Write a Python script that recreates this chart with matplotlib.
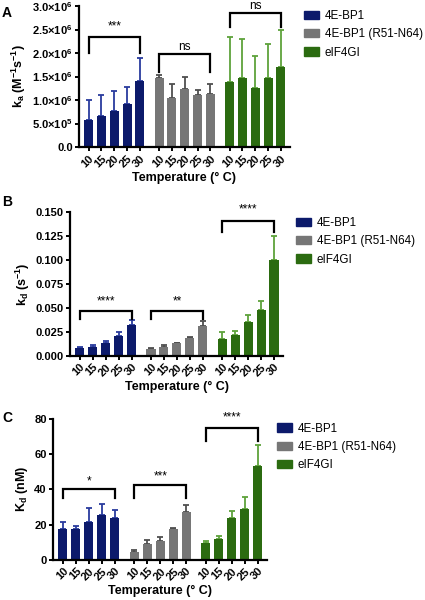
import numpy as np
import matplotlib
matplotlib.use('Agg')
import matplotlib.pyplot as plt
from matplotlib.patches import Patch

plt.rcParams['font.family'] = ['Liberation Sans', 'DejaVu Sans']
plt.rcParams['mathtext.fontset'] = 'custom'
plt.rcParams['mathtext.rm'] = 'Liberation Sans'
plt.rcParams['mathtext.it'] = 'Liberation Sans:italic'
plt.rcParams['mathtext.bf'] = 'Liberation Sans:bold'

temps = ['10', '15', '20', '25', '30']
series = ['4E-BP1', '4E-BP1 (R51-N64)', 'eIF4GI']

# panel A: ka (x1e6)
ka_mean = [[0.57, 0.66, 0.76, 0.91, 1.41],
           [1.47, 1.04, 1.24, 1.10, 1.13],
           [1.38, 1.47, 1.25, 1.47, 1.70]]
ka_top = [[1.00, 1.11, 1.20, 1.28, 1.90],
          [1.54, 1.35, 1.49, 1.22, 1.34],
          [2.34, 2.30, 1.94, 2.19, 2.49]]
ka_sig = ['***', 'ns', 'ns']
ka_ticklabels = ['0.0', r'$\mathbf{5.0{\times}10^5}$', r'$\mathbf{1.0{\times}10^6}$',
                 r'$\mathbf{1.5{\times}10^6}$', r'$\mathbf{2.0{\times}10^6}$',
                 r'$\mathbf{2.5{\times}10^6}$', r'$\mathbf{3.0{\times}10^6}$']

# panel B: kd
kd_mean = [[0.008, 0.0095, 0.013, 0.021, 0.032],
           [0.0068, 0.009, 0.013, 0.019, 0.031],
           [0.018, 0.022, 0.035, 0.048, 0.100]]
kd_top = [[0.009, 0.011, 0.015, 0.025, 0.037],
          [0.008, 0.011, 0.0135, 0.020, 0.036],
          [0.025, 0.026, 0.042, 0.057, 0.125]]
kd_sig = ['****', '**', '****']

# panel C: Kd (nM)
Kd_mean = [[17.2, 17.2, 21.3, 25.6, 23.9],
           [4.6, 9.2, 10.6, 17.4, 27.4],
           [9.7, 11.6, 23.9, 28.7, 53.5]]
Kd_top = [[21.5, 19.3, 29.3, 31.5, 28.5],
          [5.7, 11.4, 12.8, 18.3, 31.2],
          [10.6, 13.3, 27.8, 35.6, 65.0]]
Kd_sig = ['*', '***', '****']

bar_colors = ['#0c1a6b', '#767676', '#2b6b10']
err_colors = ['#2a3c9e', '#4f4f4f', '#5ea33b']
offsets = [0, 5.5, 11]


def panel(ax, means, tops, sigs, brackets, ylim, yticks, yticklabels, ylabel):
    for g in range(3):
        x = np.arange(5) + offsets[g]
        m = np.array(means[g])
        err = np.array(tops[g]) - m
        ax.bar(x, m, width=0.7, color=bar_colors[g], zorder=2)
        ax.errorbar(x, m, yerr=[np.zeros(5), err], fmt='none',
                    ecolor=err_colors[g], elinewidth=1.3, capsize=2.5,
                    capthick=1.3, zorder=1)
        top, tip, txt = brackets[g]
        x0, x1 = offsets[g], offsets[g] + 4
        ax.plot([x0, x0, x1, x1], [tip, top, top, tip], color='black',
                lw=1.6, clip_on=False, solid_joinstyle='miter')
        ax.text((x0 + x1) / 2, txt, sigs[g], ha='center', va='center',
                fontsize=8.5, clip_on=False)
    xt = np.concatenate([np.arange(5) + o for o in offsets])
    ax.set_xticks(xt)
    ax.set_xticklabels(temps * 3, rotation=45, ha='right',
                       rotation_mode='anchor', fontweight='bold', fontsize=8)
    ax.set_xlim(-0.75, 15.7)
    ax.set_ylim(*ylim)
    ax.set_yticks(yticks)
    ax.set_yticklabels(yticklabels, fontweight='bold', fontsize=8)
    ax.set_ylabel(ylabel, fontsize=9, fontweight='bold', labelpad=3)
    ax.set_xlabel('Temperature (° C)', fontsize=9, fontweight='bold',
                  labelpad=2)
    for s in ['top', 'right']:
        ax.spines[s].set_visible(False)
    for s in ['left', 'bottom']:
        ax.spines[s].set_linewidth(1.6)
    ax.tick_params(width=1.4, length=3, pad=1.5)


fig = plt.figure(figsize=(4.25, 6), dpi=100)

axA = fig.add_axes([0.186, 0.755, 0.496, 0.235])
panel(axA, ka_mean, ka_top, ka_sig,
      [(2.35, 2.0, 2.56), (1.98, 1.6, 2.12), (2.85, 2.55, 3.0)],
      (0, 3.0), [0, 0.5, 1.0, 1.5, 2.0, 2.5, 3.0], ka_ticklabels,
      r'$\mathbf{k_a\ (M^{-1}s^{-1})}$')

axB = fig.add_axes([0.165, 0.407, 0.501, 0.24])
panel(axB, kd_mean, kd_top, kd_sig,
      [(0.047, 0.038, 0.057), (0.047, 0.038, 0.057), (0.14, 0.129, 0.152)],
      (0, 0.15), [0, 0.025, 0.05, 0.075, 0.1, 0.125, 0.15],
      ['0.000', '0.025', '0.050', '0.075', '0.100', '0.125', '0.150'],
      r'$\mathbf{k_d\ (s^{-1})}$')

axC = fig.add_axes([0.125, 0.067, 0.503, 0.235])
panel(axC, Kd_mean, Kd_top, Kd_sig,
      [(40, 35, 44.5), (42.5, 35, 47.5), (75, 67.5, 81)],
      (0, 80), [0, 20, 40, 60, 80],
      ['0', '20', '40', '60', '80'],
      r'$\mathbf{K_d\ (nM)}$')

handles = [Patch(color=c) for c in bar_colors]
for loc in [(0.716, 0.943), (0.697, 0.598), (0.652, 0.255)]:
    fig.legend(handles, series, loc='center left', bbox_to_anchor=loc,
               frameon=False, fontsize=8.4, handlelength=1.3, handleheight=0.7,
               handletextpad=0.45, labelspacing=0.55, borderaxespad=0,
               borderpad=0)

fig.text(0.005, 0.99, 'A', fontsize=10, fontweight='bold', va='top')
fig.text(0.005, 0.675, 'B', fontsize=10, fontweight='bold', va='top')
fig.text(0.005, 0.315, 'C', fontsize=10, fontweight='bold', va='top')

fig.savefig('out.png', dpi=100)
